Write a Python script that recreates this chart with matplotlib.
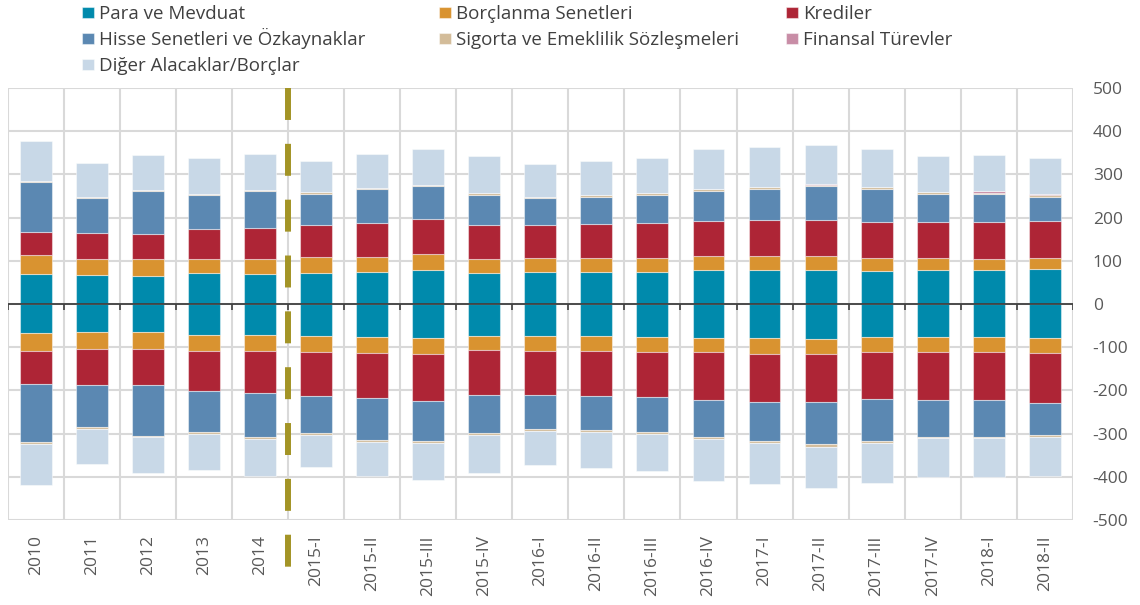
import matplotlib.pyplot as plt
import numpy as np

plt.rcParams['font.family'] = ['Open Sans', 'DejaVu Sans']
plt.rcParams['axes.unicode_minus'] = False

donemler = ['2010', '2011', '2012', '2013', '2014', '2015-I', '2015-II', '2015-III',
            '2015-IV', '2016-I', '2016-II', '2016-III', '2016-IV', '2017-I', '2017-II',
            '2017-III', '2017-IV', '2018-I', '2018-II']

# varliklar (pozitif taraf)
para_v = [68.8, 68.0, 65.7, 72.0, 70.4, 72.7, 75.0, 79.7, 72.7, 75.0, 75.0, 75.0, 78.1, 79.7, 79.7, 77.3, 78.9, 78.9, 82.0]
borc_v = [44.1, 37.0, 37.9, 33.2, 34.8, 36.3, 34.8, 35.5, 32.5, 31.0, 31.7, 32.5, 32.5, 32.4, 30.9, 30.2, 28.6, 26.3, 24.7]
kredi_v = [54.1, 59.7, 59.6, 69.6, 71.9, 75.0, 78.2, 81.2, 77.3, 76.5, 78.1, 78.9, 81.2, 82.8, 84.3, 81.2, 82.8, 83.5, 85.1]
hisse_v = [114.5, 79.7, 97.4, 76.6, 83.5, 69.7, 77.3, 75.8, 68.9, 61.9, 63.5, 65.7, 69.6, 71.9, 77.3, 76.6, 63.4, 65.0, 56.5]
sigorta_v = [2.3, 2.3, 2.4, 3.0, 3.9, 4.6, 3.7, 3.9, 4.6, 3.9, 3.1, 4.7, 5.4, 4.7, 3.9, 4.6, 4.6, 3.8, 3.8]
turev_v = [0, 0, 0, 0, 0, 0, 0, 0, 0, 0, 0, 0, 0.5, 0.5, 2.3, 0, 0, 3.1, 3.1]
diger_v = [94.2, 79.7, 81.0, 82.8, 82.8, 71.9, 79.0, 83.5, 85.8, 75.0, 80.4, 81.9, 90.8, 91.2, 90.5, 89.7, 85.1, 84.3, 83.5]

# yukumlulukler (negatif taraf)
para_y = [-66.5, -65.0, -65.0, -71.2, -71.2, -73.5, -75.8, -78.9, -73.5, -73.5, -73.5, -75.8, -78.1, -78.9, -80.4, -75.8, -75.8, -75.8, -78.9]
borc_y = [-41.8, -38.6, -40.2, -37.1, -38.6, -38.6, -37.1, -37.9, -34.0, -34.8, -35.5, -34.8, -34.0, -36.3, -35.6, -36.3, -36.3, -36.3, -34.0]
kredi_y = [-76.5, -83.6, -82.0, -92.8, -95.9, -99.8, -104.4, -107.5, -103.6, -102.8, -104.5, -104.4, -109.1, -110.6, -110.6, -107.5, -109.9, -109.9, -116.0]
hisse_y = [-135.4, -97.4, -117.5, -95.1, -102.9, -86.6, -97.5, -93.6, -87.4, -78.9, -78.8, -82.0, -86.6, -92.1, -98.2, -98.3, -85.0, -85.0, -75.1]
sigorta_y = [-3.1, -3.9, -3.1, -3.8, -3.1, -3.9, -4.6, -4.6, -3.9, -4.7, -4.7, -4.6, -5.4, -4.6, -5.4, -4.6, -3.9, -3.9, -3.0]
turev_y = [0] * 19
diger_y = [-95.9, -81.2, -83.5, -85.2, -85.8, -75.0, -78.1, -85.1, -88.2, -77.3, -82.7, -85.1, -95.9, -94.4, -95.2, -92.0, -88.9, -88.9, -90.5]

seriler = ['Para ve Mevduat', 'Borçlanma Senetleri', 'Krediler',
           'Hisse Senetleri ve Özkaynaklar', 'Sigorta ve Emeklilik Sözleşmeleri',
           'Finansal Türevler', 'Diğer Alacaklar/Borçlar']
renkler = ['#008aac', '#d99330', '#ae2536', '#5b88b2', '#d3bc99', '#c88da6', '#c8d8e7']

pozitif = [para_v, borc_v, kredi_v, hisse_v, sigorta_v, turev_v, diger_v]
negatif = [para_y, borc_y, kredi_y, hisse_y, sigorta_y, turev_y, diger_y]

fig = plt.figure(figsize=(11.4, 6.05), dpi=100)
ax = fig.add_axes([0.007, 0.1405, 0.934, 0.714])

x = np.arange(len(donemler))
alt_p = np.zeros(len(x))
alt_n = np.zeros(len(x))
handles = []
for ad, renk, pv, nv in zip(seriler, renkler, pozitif, negatif):
    b = ax.bar(x, pv, 0.57, bottom=alt_p, color=renk, edgecolor=(1, 1, 1, 0.45), linewidth=0.8, label=ad, zorder=2)
    ax.bar(x, nv, 0.57, bottom=alt_n, color=renk, edgecolor=(1, 1, 1, 0.45), linewidth=0.8, zorder=2)
    alt_p += np.array(pv)
    alt_n += np.array(nv)
    handles.append(b)

sinirlar = np.arange(-0.5, len(x), 1)
ax.set_xlim(-0.5, len(x) - 0.5)
ax.set_ylim(-500, 500)
ax.set_yticks(np.arange(-500, 501, 100))
ax.yaxis.tick_right()
ax.tick_params(axis='y', length=0, pad=14.4, labelcolor='#595959', labelsize=12.5)
ax.set_xticks(x)
ax.set_xticklabels(donemler, rotation=90, va='top')
ax.set_xticks(sinirlar, minor=True)
ax.tick_params(axis='x', which='both', length=0, pad=11, labelcolor='#595959', labelsize=12.5)
ax.grid(axis='y', color='#d9d9d9', linewidth=1.5, zorder=0)
ax.grid(axis='x', which='minor', color='#d9d9d9', linewidth=1.5, zorder=0)
ax.grid(axis='x', which='major', visible=False)
for s in ax.spines.values():
    s.set_visible(False)

ax.axhline(0, color='#404040', linewidth=1.3, zorder=3)
ax.vlines(sinirlar, -15, 0, color='#404040', linewidth=1.2, zorder=3)

# 2014 ile 2015-I arasi kesikli ayrac
ax.plot([4.5, 4.5], [1.0, -0.111], transform=ax.get_xaxis_transform(), color='#a39426',
        linewidth=4.3, dashes=(5.35, 4.0), clip_on=False, zorder=4)

# lejant: her kalem kendi yerinde (3 sutun, satir satir)
sutun_x = [82, 439, 786]
satir_alt = [23, 49, 75]
for i, (h, ad) in enumerate(zip(handles, seriler)):
    px = sutun_x[i % 3]
    py = satir_alt[i // 3]
    fig.legend([h], [ad], loc='lower left', bbox_to_anchor=(px / 1140, 1 - py / 605),
               frameon=False, fontsize=13.5, borderpad=0, borderaxespad=0,
               handlelength=0.62, handleheight=0.48, handletextpad=0.27,
               labelcolor='#404040')

fig.savefig('out.png', dpi=100)
